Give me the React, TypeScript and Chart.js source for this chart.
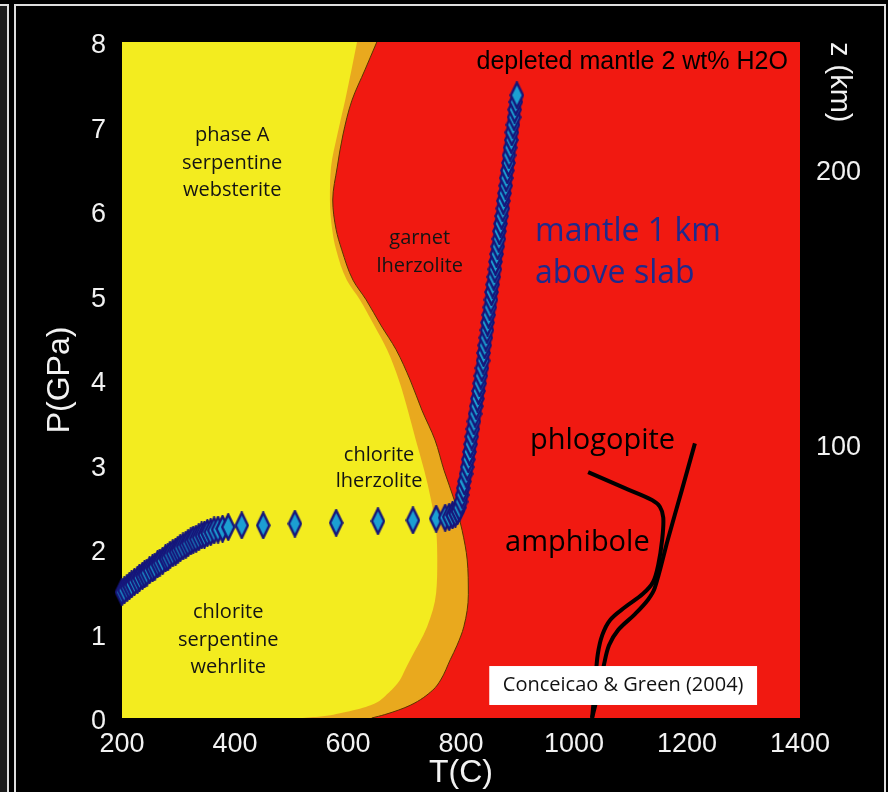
import React, { useEffect, useRef } from 'react';
import { Chart, registerables } from 'chart.js';

Chart.register(...registerables);

// Depth axis ticks (km)
const depthTicks = [100, 200];

// Orange/red boundary: onset of garnet lherzolite, T (°C) at P (GPa)
const garnetEdgeP = [0, 0.04, 0.15, 0.33, 0.45, 0.69, 0.86, 1.08, 1.46, 1.87, 2.22, 2.58, 2.93, 3.29, 3.64, 4.0, 4.36, 4.65, 4.95, 5.18, 5.54, 5.78, 6.13, 6.52, 6.90, 7.31, 7.67, 8.0];
const garnetEdgeT = [642, 665, 710, 750, 764, 781, 793, 805, 813, 811, 802, 788, 770, 754, 731, 710, 685, 658, 632, 609, 589, 579, 573, 581, 591, 607, 630, 651];

// Yellow/orange boundary: serpentine / chlorite stability limit
const serpEdgeP = [0, 0.02, 0.07, 0.15, 0.30, 0.45, 0.57, 0.69, 1.08, 1.48, 1.87, 2.22, 2.58, 2.93, 3.29, 3.64, 4.0, 4.36, 4.65, 4.95, 5.18, 5.54, 5.78, 6.13, 6.52, 6.90, 7.31, 8.0];
const serpEdgeT = [520, 555, 596, 640, 672, 692, 701, 710, 740, 756, 758, 756, 747, 735, 720, 706, 690, 669, 646, 621, 598, 579, 572, 568, 570, 581, 595, 616];

// P-T path of the mantle 1 km above the slab
const slabT = [
  200, 204, 209, 213, 217, 222, 227, 231, 236, 240, 244, 249, 254, 258, 263, 267, 272, 277, 281, 285,
  290, 295, 299, 303, 308, 313, 317, 322, 326, 331, 336, 341, 346, 351, 357, 363, 370, 378, 388,
  412, 450, 506, 579, 653, 715, 756,
  772, 779, 785, 790, 794, 797,
  800, 802, 804, 806, 809, 811, 813, 815, 817, 819, 821, 823, 825, 827, 829, 831, 833, 835, 837, 839,
  840, 842, 844, 846, 847, 849, 851, 853, 854, 856, 858, 860, 861, 863, 865, 867, 868, 870, 872, 874,
  875, 877, 879, 880, 882, 884, 885, 887, 889, 890, 892, 894, 895, 897, 899,
];
const slabP = [
  1.49, 1.51, 1.54, 1.56, 1.58, 1.61, 1.63, 1.66, 1.68, 1.70, 1.72, 1.75, 1.77, 1.79, 1.82, 1.84, 1.86, 1.89, 1.90, 1.93,
  1.95, 1.97, 1.99, 2.01, 2.03, 2.05, 2.07, 2.09, 2.11, 2.12, 2.14, 2.16, 2.17, 2.19, 2.20, 2.22, 2.23, 2.24, 2.26,
  2.28, 2.28, 2.30, 2.31, 2.33, 2.34, 2.36,
  2.37, 2.38, 2.40, 2.42, 2.45, 2.49,
  2.56, 2.64, 2.72, 2.80, 2.89, 2.97, 3.06, 3.15, 3.24, 3.33, 3.42, 3.51, 3.60, 3.69, 3.78, 3.87, 3.96, 4.05, 4.14, 4.23,
  4.32, 4.41, 4.50, 4.59, 4.68, 4.77, 4.86, 4.95, 5.04, 5.13, 5.22, 5.31, 5.40, 5.49, 5.58, 5.67, 5.76, 5.85, 5.94, 6.03,
  6.12, 6.21, 6.30, 6.39, 6.48, 6.57, 6.66, 6.75, 6.84, 6.93, 7.02, 7.11, 7.20, 7.29, 7.37,
];

// Hydrous phase stability limits (Conceicao & Green 2004)
const amphiboleT = [1025, 1090, 1138, 1152, 1158, 1156, 1149, 1140, 1122, 1090, 1064, 1050, 1042, 1038, 1035, 1032];
const amphiboleP = [2.91, 2.72, 2.58, 2.50, 2.37, 2.11, 1.81, 1.61, 1.47, 1.31, 1.16, 0.98, 0.75, 0.45, 0.21, 0];
const phlogopiteT = [1214, 1191, 1166, 1143, 1131, 1108, 1078, 1062, 1053, 1044, 1032];
const phlogopiteP = [3.25, 2.70, 2.11, 1.54, 1.40, 1.23, 1.04, 0.86, 0.63, 0.33, 0];

// Text placed at (T, P)
const fieldLabels: [string, number, number][] = [
  ['phase A', 395, 6.89], ['serpentine', 395, 6.57], ['websterite', 395, 6.25],
  ['garnet', 727, 5.68], ['lherzolite', 727, 5.35],
  ['chlorite', 655, 3.11], ['lherzolite', 655, 2.80],
  ['chlorite', 388, 1.25], ['serpentine', 388, 0.92], ['wehrlite', 388, 0.60],
];
const pathLabels: [string, number, number][] = [['mantle 1 km', 931, 5.75], ['above slab', 931, 5.25]];
const phaseLabels: [string, number, number][] = [['phlogopite', 922, 3.28], ['amphibole', 878, 2.08]];
const titleLabel: [string, number, number] = ['depleted mantle 2 wt% H2O', 1103, 7.76];
const sourceLabel: [string, number, number] = ['Conceicao & Green (2004)', 1087, 0.385];
const sourceBox = { t0: 850, t1: 1324, p0: 0.154, p1: 0.615 };

const T_MIN = 200;
const YELLOW = '#f3ec1f';
const ORANGE = '#e9a91e';
const RED = '#f11911';
const NAVY = '#16167a';
const SANS = "'Open Sans', 'Noto Sans', sans-serif";
const ARIAL = "'Liberation Sans', Arial, sans-serif";

const pts = (t: number[], p: number[]) => t.map((v, i) => ({ x: v, y: p[i] }));

function makeDiamond(): HTMLCanvasElement {
  const c = document.createElement('canvas');
  c.width = 15;
  c.height = 28;
  const g = c.getContext('2d')!;
  g.beginPath();
  g.moveTo(7.5, 1.4);
  g.lineTo(13.6, 14);
  g.lineTo(7.5, 26.6);
  g.lineTo(1.4, 14);
  g.closePath();
  g.fillStyle = '#1c9fd2';
  g.fill();
  g.lineWidth = 2.4;
  g.strokeStyle = NAVY;
  g.stroke();
  return c;
}

const labelPlugin = {
  id: 'phaseLabels',
  afterDatasetsDraw(chart: any) {
    const { ctx } = chart;
    const x = chart.scales.x;
    const y = chart.scales.y;
    const px = (t: number) => x.getPixelForValue(t);
    const py = (p: number) => y.getPixelForValue(p);
    ctx.save();
    ctx.textBaseline = 'middle';

    // source box
    const bx0 = px(sourceBox.t0), bx1 = px(sourceBox.t1);
    const by0 = py(sourceBox.p1), by1 = py(sourceBox.p0);
    ctx.fillStyle = '#ffffff';
    ctx.fillRect(bx0, by0, bx1 - bx0, by1 - by0);
    ctx.fillStyle = '#111';
    ctx.textAlign = 'center';
    ctx.font = `20px ${SANS}`;
    ctx.fillText(sourceLabel[0], px(sourceLabel[1]), py(sourceLabel[2]));

    ctx.font = `20px ${SANS}`;
    ctx.fillStyle = '#141414';
    for (const [s, t, p] of fieldLabels) ctx.fillText(s, px(t), py(p));

    ctx.font = `25px ${ARIAL}`;
    ctx.fillStyle = '#000';
    ctx.fillText(titleLabel[0], px(titleLabel[1]), py(titleLabel[2]));

    ctx.textAlign = 'left';
    ctx.font = `32px ${SANS}`;
    ctx.fillStyle = '#1e2a8c';
    for (const [s, t, p] of pathLabels) ctx.fillText(s, px(t), py(p));

    ctx.font = `29px ${SANS}`;
    ctx.fillStyle = '#000';
    for (const [s, t, p] of phaseLabels) ctx.fillText(s, px(t), py(p));
    ctx.restore();
  },
};

export default function App() {
  const ref = useRef<HTMLCanvasElement>(null);

  useEffect(() => {
    if (!ref.current) return;
    const diamond = makeDiamond();
    const tickColor = '#f2f2f2';
    const toLeftEdge = { value: T_MIN };
    const plain = (v: any) => String(v);
    const chart = new Chart(ref.current, {
      type: 'line',
      data: {
        datasets: [
          {
            label: 'mantle 1 km above slab',
            data: pts(slabT, slabP),
            showLine: false,
            pointStyle: diamond as any,
            pointRadius: 7,
            clip: false as any,
            order: 1,
          },
          {
            label: 'phlogopite',
            data: pts(phlogopiteT, phlogopiteP),
            borderColor: '#000',
            borderWidth: 4,
            pointRadius: 0,
            tension: 0.35,
            fill: false,
            order: 2,
          },
          {
            label: 'amphibole',
            data: pts(amphiboleT, amphiboleP),
            borderColor: '#000',
            borderWidth: 4,
            pointRadius: 0,
            tension: 0.35,
            fill: false,
            order: 2,
          },
          {
            label: 'serpentine / chlorite field',
            data: pts(serpEdgeT, serpEdgeP),
            fill: toLeftEdge,
            backgroundColor: YELLOW,
            borderWidth: 0,
            borderColor: 'rgba(0,0,0,0)',
            pointRadius: 0,
            cubicInterpolationMode: 'monotone',
            order: 3,
          },
          {
            label: 'transition band',
            data: pts(garnetEdgeT, garnetEdgeP),
            fill: toLeftEdge,
            backgroundColor: ORANGE,
            borderWidth: 1,
            borderColor: '#5a3500',
            pointRadius: 0,
            cubicInterpolationMode: 'monotone',
            order: 4,
          },
          {
            label: 'garnet lherzolite field',
            data: [{ x: 1400, y: 0 }, { x: 1400, y: 8 }],
            fill: toLeftEdge,
            backgroundColor: RED,
            borderWidth: 0,
            borderColor: 'rgba(0,0,0,0)',
            pointRadius: 0,
            order: 5,
          },
        ],
      },
      options: {
        indexAxis: 'y',
        animation: false,
        responsive: false,
        layout: { padding: { top: 42, left: 0, right: 0, bottom: 0 } },
        plugins: { legend: { display: false }, tooltip: { enabled: false } },
        scales: {
          x: {
            type: 'linear',
            position: 'bottom',
            min: 200,
            max: 1400,
            grid: { display: false, drawTicks: false },
            border: { display: false },
            ticks: { stepSize: 200, color: tickColor, padding: 10, callback: plain, font: { family: ARIAL, size: 27 } },
            title: { display: true, text: 'T(C)', color: tickColor, padding: { top: 0, bottom: 0 }, font: { family: ARIAL, size: 32 } },
            afterFit: (s: any) => { s.height = 74; },
          },
          y: {
            type: 'linear',
            position: 'left',
            min: 0,
            max: 8,
            grid: { display: false, drawTicks: false },
            border: { display: false },
            ticks: { stepSize: 1, color: tickColor, padding: 16, labelOffset: 4, callback: plain, font: { family: ARIAL, size: 27 } },
            title: { display: true, text: 'P(GPa)', color: tickColor, padding: { top: 41, bottom: 0 }, font: { family: ARIAL, size: 32 } },
            afterFit: (s: any) => { s.width = 122; },
          },
          z: {
            type: 'linear',
            position: 'right',
            min: 1.5,
            max: 247.3,
            grid: { display: false, drawTicks: false },
            border: { display: false },
            afterBuildTicks: (s: any) => { s.ticks = depthTicks.map((v) => ({ value: v })); },
            ticks: { color: tickColor, padding: 16, callback: plain, font: { family: ARIAL, size: 27 } },
            title: { display: true, text: 'z (km)', align: 'end', color: tickColor, padding: { top: 32, bottom: 0 }, font: { family: ARIAL, size: 29 } },
            afterFit: (s: any) => { s.width = 88; },
          },
        },
      } as any,
      plugins: [labelPlugin],
    });
    return () => chart.destroy();
  }, []);

  return (
    <div style={{ position: 'fixed', left: 0, top: 0, width: 888, height: 792, background: '#000', overflow: 'hidden' }}>
      <div
        style={{
          position: 'absolute', left: 0, top: 4, width: 9, height: 800, boxSizing: 'border-box',
          background: '#1c1c1c', borderTop: '2px solid #dedede', borderRight: '2px solid #dedede',
        }}
      />
      <div
        style={{
          position: 'absolute', left: 14, top: 4, width: 872, height: 800, boxSizing: 'border-box',
          background: '#000', border: '2px solid #dedede',
        }}
      />
      <canvas ref={ref} width={888} height={792} style={{ position: 'absolute', left: 0, top: 0 }} />
    </div>
  );
}
